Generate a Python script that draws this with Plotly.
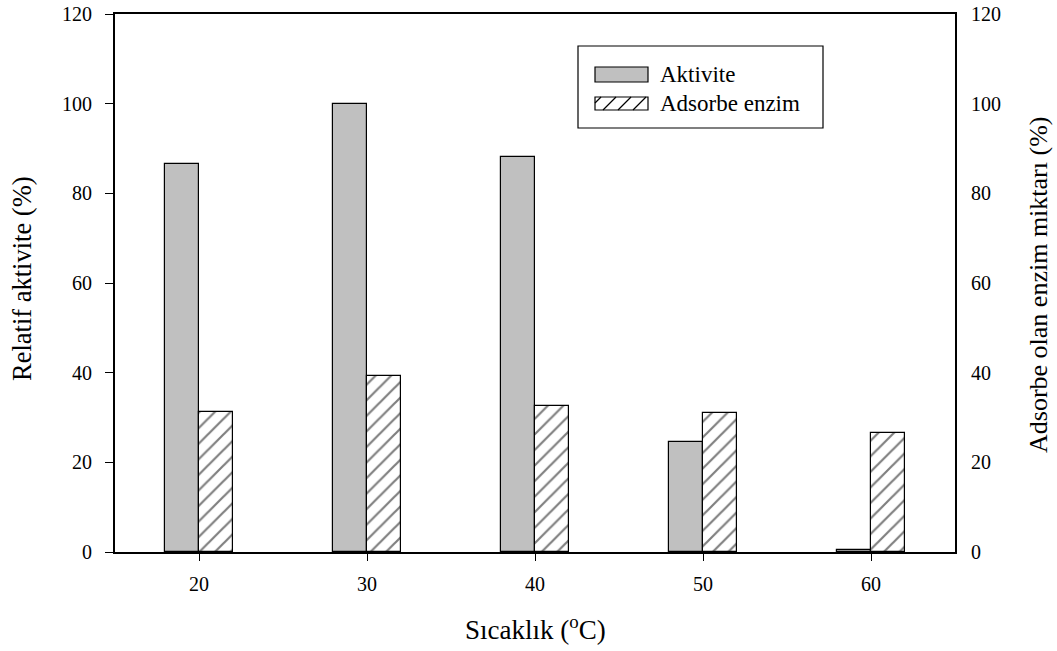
import plotly.graph_objects as go

# Sıcaklık (°C) ve ölçülen değerler
sicaklik = [20, 30, 40, 50, 60]
aktivite = [86.6, 100.0, 88.2, 24.6, 0.4]
adsorbe_enzim = [31.2, 39.2, 32.5, 31.0, 26.6]

# Tick positions and labels
x_ticks = [20, 30, 40, 50, 60]
x_tick_labels = ["20", "30", "40", "50", "60"]
y_ticks = [0, 20, 40, 60, 80, 100, 120]
y_tick_labels = ["0", "20", "40", "60", "80", "100", "120"]

FONT = "Liberation Serif, Times New Roman, DejaVu Serif, serif"

fig = go.Figure()

fig.add_trace(go.Bar(
    x=sicaklik, y=aktivite, name="Aktivite",
    width=2, offset=-2,
    marker=dict(color="#c0c0c0", line=dict(color="black", width=1.2)),
    showlegend=False,
))

fig.add_trace(go.Bar(
    x=sicaklik, y=adsorbe_enzim, name="Adsorbe enzim",
    width=2, offset=0, yaxis="y2",
    marker=dict(color="white", line=dict(color="black", width=1.2),
                pattern=dict(shape="/", size=11, solidity=0.2,
                             fgcolor="black", bgcolor="white")),
    showlegend=False,
))

# Plot area in pixels
L, R, T, B = 115, 955, 14, 552
W, H = 1057, 651


def px(xp):
    return (xp - L) / (R - L)


def py(yp):
    return (B - yp) / (B - T)


shapes = []
annotations = []

# Legend frame
shapes.append(dict(type="rect", xref="paper", yref="paper",
                   x0=px(578), x1=px(823), y0=py(128), y1=py(46),
                   line=dict(color="black", width=1.2), fillcolor="white", layer="above"))
# Aktivite swatch
shapes.append(dict(type="rect", xref="paper", yref="paper",
                   x0=px(595), x1=px(648), y0=py(82), y1=py(67),
                   line=dict(color="black", width=1.2), fillcolor="#c0c0c0", layer="above"))
# Adsorbe enzim swatch (hatched)
sx0, sx1, sy0, sy1 = 595, 648, 97, 110
shapes.append(dict(type="rect", xref="paper", yref="paper",
                   x0=px(sx0), x1=px(sx1), y0=py(sy1), y1=py(sy0),
                   line=dict(color="black", width=1.2), fillcolor="white", layer="above"))
hh = sy1 - sy0
for start in range(sx0 - hh + 6, sx1, 15):
    xa, ya = start, sy1
    xb, yb = start + hh, sy0
    if xa < sx0:
        ya = sy1 - (sx0 - xa)
        xa = sx0
    if xb > sx1:
        yb = sy0 + (xb - sx1)
        xb = sx1
    if xb <= xa:
        continue
    shapes.append(dict(type="line", xref="paper", yref="paper",
                       x0=px(xa), y0=py(ya), x1=px(xb), y1=py(yb),
                       line=dict(color="black", width=1.2), layer="above"))

LEGFONT = dict(family=FONT, size=23, color="black")
annotations.append(dict(text="Aktivite", xref="paper", yref="paper",
                        x=px(658), y=py(74.5), xanchor="left", yanchor="middle",
                        showarrow=False, font=LEGFONT))
annotations.append(dict(text="Adsorbe enzim", xref="paper", yref="paper",
                        x=px(658), y=py(103), xanchor="left", yanchor="middle",
                        showarrow=False, font=LEGFONT))

# Tick labels
TICKFONT = dict(family=FONT, size=20, color="black")
for v, t in zip(x_ticks, x_tick_labels):
    annotations.append(dict(text=t, xref="x", yref="paper", x=v, y=py(584),
                            xanchor="center", yanchor="middle", showarrow=False,
                            font=TICKFONT))
for v, t in zip(y_ticks, y_tick_labels):
    annotations.append(dict(text=t, xref="paper", yref="y", x=px(94), y=v,
                            xanchor="right", yanchor="middle", showarrow=False,
                            font=TICKFONT))
    annotations.append(dict(text=t, xref="paper", yref="y", x=px(969), y=v,
                            xanchor="left", yanchor="middle", showarrow=False,
                            font=TICKFONT))

# Axis titles
annotations.append(dict(text="Sıcaklık (<sup>o</sup>C)", xref="paper", yref="paper",
                        x=px(535), y=py(628), xanchor="center", yanchor="middle",
                        showarrow=False, font=dict(family=FONT, size=27, color="black")))
annotations.append(dict(text="Relatif aktivite (%)", xref="paper", yref="paper",
                        x=px(22), y=py(279), xanchor="center", yanchor="middle",
                        textangle=-90, showarrow=False,
                        font=dict(family=FONT, size=26.5, color="black")))
annotations.append(dict(text="Adsorbe olan enzim miktarı (%)", xref="paper", yref="paper",
                        x=px(1038), y=py(285), xanchor="center", yanchor="middle",
                        textangle=-90, showarrow=False,
                        font=dict(family=FONT, size=26, color="black")))

fig.update_layout(
    width=W, height=H,
    margin=dict(l=L, r=W - R, t=T, b=H - B, autoexpand=False),
    paper_bgcolor="white", plot_bgcolor="white",
    font=dict(family=FONT, size=18, color="black"),
    bargap=0,
    xaxis=dict(
        range=[15, 65], tickvals=x_ticks, ticks="outside", ticklen=7,
        tickwidth=1.2, tickcolor="black", showline=True, linecolor="black",
        linewidth=1.5, mirror=True, showgrid=False, zeroline=False,
        showticklabels=False, automargin=False,
    ),
    yaxis=dict(
        range=[0, 120], tickvals=y_ticks, ticks="outside",
        ticklen=8, tickwidth=1.2, tickcolor="black", showline=True,
        linecolor="black", linewidth=1.5, showgrid=False, zeroline=False,
        showticklabels=False, automargin=False,
    ),
    yaxis2=dict(
        range=[0, 120], tickvals=y_ticks, overlaying="y",
        side="right", ticks="", showline=True, linecolor="black", linewidth=1.5,
        showgrid=False, zeroline=False, showticklabels=False, automargin=False,
    ),
    shapes=shapes,
    annotations=annotations,
)

fig.write_html("out.html")
